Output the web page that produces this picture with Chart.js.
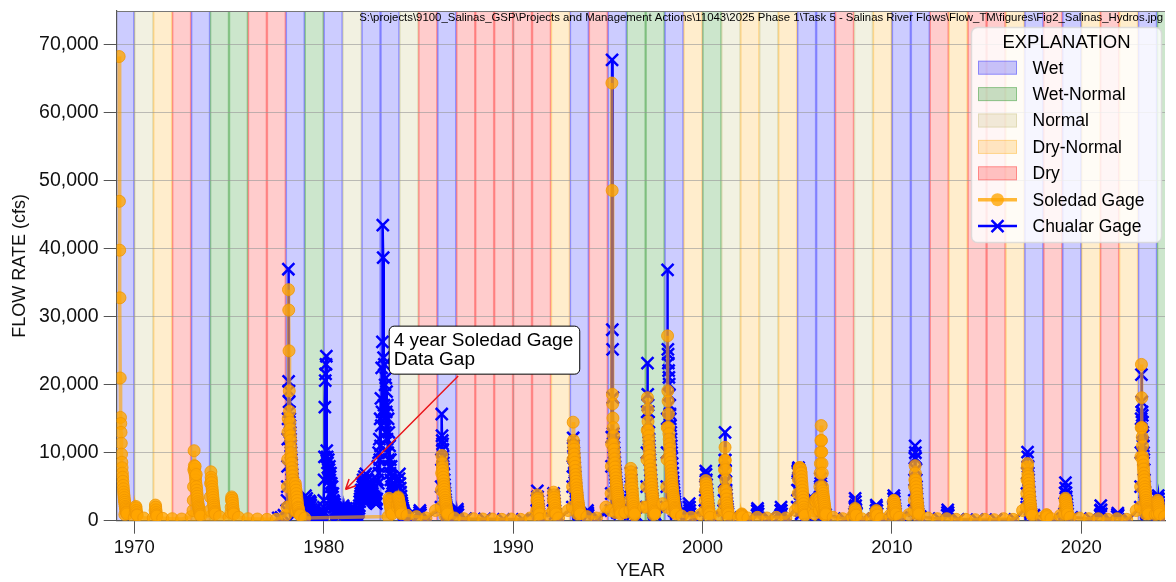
<!DOCTYPE html>
<html>
<head>
<title>Salinas River Flows</title>
<script src="https://cdn.jsdelivr.net/npm/chart.js"></script>
<style>
  html, body { margin: 0; padding: 0; background: #fff; overflow: hidden; }
  #hydro { display: block; }
</style>
</head>
<body>
<canvas id="hydro" width="1176" height="582"></canvas>
<script>
// year classification, one entry per calendar year from 1969
const firstYear = 1969;
const yearTypes = [
  'W','N','DN','D','W','WN','WN','D','D','W',      // 1969-1978
  'WN','W','N','W','W','N','D','W','D','D',        // 1979-1988
  'D','D','D','DN','W','D','W','WN','WN','W',      // 1989-1998
  'DN','WN','N','DN','N','DN','W','W','D','N',     // 1999-2008
  'DN','W','W','D','DN','D','D','DN','W','D',      // 2009-2018
  'W','DN','D','DN','W','WN'                       // 2019-2024
];
const typeNames = ['W', 'WN', 'N', 'DN', 'D'];
const typeLabels = ['Wet', 'Wet-Normal', 'Normal', 'Dry-Normal', 'Dry'];
const typeRgb = { W: '0,0,255', WN: '0,128,0', N: '189,183,107', DN: '255,165,0', D: '255,0,0' };

const xTicks = [1970, 1980, 1990, 2000, 2010, 2020];
const yTicks = [0, 10000, 20000, 30000, 40000, 50000, 60000, 70000];

// flows: [first reading (decimal year), years between readings, flows in cfs]
const soledadLow = [
  [1969.5, 0.5, [900, 500, 400, 400, 350, 300, 250, 600, 700, 600, 600, 500, 500, 300, 250, 200, 200, 800, 1500, 400]],
  [1983.4, 0.5, [600, 2000, 800, 600, 400, 1500, 700, 400, 300, 300, 250, 250, 200, 250, 200, 400, 300, 800, 400,
    1500, 1000, 600, 400, 2000, 1200, 1200, 800, 2000, 900, 2500, 1500, 700, 500, 900, 500, 800, 500, 500, 400,
    500, 400, 500, 400, 1500, 800, 1000, 900, 500, 300, 600, 300, 400, 300, 800, 500, 900, 600, 400, 300, 300, 200,
    200, 150, 200, 150, 300, 200, 1500, 800, 400, 300, 800, 500, 400, 300, 300, 200, 300, 200, 1500, 1000, 900, 600]]
];
const soledadStorms = [
  [1969.2, 0.014, [68300, 47000, 39800, 32800, 21000, 15200, 14300, 13000, 11400, 9800, 8600, 7800, 7000, 6400, 5800,
    5200, 4700, 4200, 3800, 3400, 3000, 2700, 2400, 2100, 1900, 1700, 1500, 1300, 1200, 1000]],
  [1970.05, 0.014, [1200, 1800, 2100, 1900, 1500, 1200, 900, 800]],
  [1971.1, 0.014, [1500, 2300, 2000, 1600, 1200, 900, 700]],
  [1973.1, 0.014, [1500, 3000, 5000, 7500, 10300, 8100, 7600, 7000, 8000, 6500, 6000, 5500, 6800, 5000, 4500, 4000,
    3600, 3200, 2800, 2500, 2200, 2000, 1800, 1600, 1400, 1200, 1000, 900]],
  [1974.0, 0.014, [1500, 3500, 5500, 7200, 6400, 6000, 5600, 5000, 4600, 4200, 3800, 3400, 3000, 2600, 2300, 2000,
    1700, 1400, 1200, 1000]],
  [1975.1, 0.014, [1200, 2000, 3000, 3500, 3300, 3000, 2600, 2200, 1800, 1500, 1200, 1000]],
  [1978.07, 0.014, [2000, 5000, 9000, 13000, 15000, 34000, 31000, 25000, 19100, 16100, 14500, 13500, 12500, 11800,
    10800, 10000, 9200, 8500, 7800, 7200, 6600, 6000, 5500, 5000, 4600, 4200, 3800, 3400, 3000, 2700, 2400, 2100,
    1900, 1700, 1500, 1300]],
  [1978.5, 0.02, [5500, 5000, 4500, 4000, 3500, 3000, 2500, 2000, 1800, 1500, 1200, 1000, 900, 800]],
  [1983.45, 0.014, [3300, 3000, 2800, 2600, 2400, 2200, 2000, 1800, 1600, 1400, 1200, 1000]],
  [1983.9, 0.014, [2500, 3300, 3500, 3200, 3000, 2800, 2600, 2400, 2200, 2000, 1800, 1600, 1400, 1200, 1000]],
  [1986.2, 0.014, [2000, 4500, 7000, 9600, 8500, 7900, 7400, 6900, 6400, 5900, 5400, 5000, 4600, 4200, 3800, 3400,
    3000, 2700, 2400, 2100, 1800, 1600, 1400, 1200, 1000]],
  [1991.25, 0.014, [1500, 3000, 3800, 3300, 3000, 2600, 2200, 1800, 1500, 1200, 1000]],
  [1992.11, 0.014, [1500, 3000, 4200, 3800, 3400, 3000, 2600, 2200, 1800, 1500, 1200, 1000]],
  [1993.13, 0.014, [2000, 5000, 9000, 14500, 11800, 11000, 10500, 9800, 9200, 8600, 8000, 7400, 6800, 6300, 5800,
    5300, 4800, 4400, 4000, 3600, 3200, 2900, 2600, 2300, 2000, 1800, 1600, 1400, 1200, 1000]],
  [1995.16, 0.014, [1500, 4000, 8000, 11300, 64400, 48600, 18600, 17200, 15100, 13700, 12500, 11300, 10500, 9800,
    9100, 8500, 7900, 7300, 6800, 6300, 5800, 5400, 5000, 4600, 4200, 3900, 3600, 3300, 3000, 2700, 2400, 2200,
    2000, 1800, 1600, 1400, 1200, 1000]],
  [1996.17, 0.014, [1500, 3000, 5000, 7700, 7200, 6600, 6000, 5400, 4800, 4300, 3800, 3300, 2900, 2500, 2100, 1800,
    1500, 1200, 1000]],
  [1997.04, 0.014, [2000, 5000, 9000, 13300, 18100, 16400, 14600, 13300, 12500, 11800, 11000, 10300, 9600, 8900,
    8200, 7600, 7000, 6400, 5900, 5400, 4900, 4400, 4000, 3600, 3200, 2800, 2500, 2200, 1900, 1600, 1400, 1200, 1000]],
  [1998.1, 0.014, [2000, 5000, 9000, 13700, 27200, 19100, 17600, 15700, 13700, 12800, 12000, 11300, 10600, 9900,
    9200, 8600, 8000, 7400, 6900, 6400, 5900, 5400, 5000, 4600, 4200, 3800, 3500, 3200, 2900, 2600, 2300, 2000,
    1800, 1600, 1400, 1200, 1000]],
  [2000.13, 0.014, [1500, 3000, 4500, 5900, 5500, 5200, 4800, 4400, 4000, 3600, 3200, 2800, 2400, 2000, 1700, 1400,
    1200, 1000]],
  [2001.12, 0.014, [1500, 2600, 4500, 7500, 8900, 10800, 8900, 7500, 6000, 4500, 3800, 3200, 2600, 2200, 1800, 1500,
    1200, 1000]],
  [2002.05, 0.014, [600, 900, 1000, 800, 600]],
  [2005.04, 0.014, [2000, 4000, 6000, 7000, 7600, 7800, 7800, 7700, 7800, 7600, 7500, 7200, 7000, 6500, 6000, 5500,
    5000, 4500, 4000, 3500, 3000, 2500, 2000, 1600, 1300, 1000]],
  [2005.85, 0.05, [1500, 2500, 3000, 2800, 3300, 3000, 2600, 2800, 2400, 2000, 1600, 1200, 1000, 800]],
  [2006.17, 0.014, [1500, 3300, 5000, 7000, 8400, 10100, 11800, 14000, 11800, 10100, 8400, 7000, 5000, 4400, 4000,
    3600, 3300, 3000, 2700, 2400, 2100, 1800, 1500, 1200, 1000]],
  [2008.03, 0.014, [800, 1500, 1800, 1600, 1300, 1000, 800]],
  [2009.15, 0.014, [800, 1200, 1500, 1300, 1000, 800]],
  [2010.06, 0.014, [1000, 2000, 2800, 3000, 2900, 2700, 2400, 2100, 1800, 1500, 1200, 1000]],
  [2011.17, 0.014, [1500, 3000, 5000, 6000, 8100, 7000, 6000, 5500, 5000, 4500, 4000, 3500, 3000, 2600, 2200, 1800,
    1500, 1200, 1000]],
  [2017.11, 0.014, [2000, 4000, 6000, 7900, 8400, 6900, 6500, 6000, 5500, 5000, 4500, 4000, 3500, 3000, 2600, 2200,
    1800, 1500, 1200, 1000]],
  [2018.15, 0.014, [600, 900, 800, 600]],
  [2019.12, 0.014, [1000, 2000, 3000, 3300, 3100, 2800, 2500, 2200, 1900, 1600, 1300, 1000]],
  [2023.12, 0.014, [2000, 5000, 9400, 13700, 23000, 18100, 13700, 12300, 11000, 9400, 8800, 8200, 7600, 7000, 6500,
    6000, 5500, 5000, 4600, 4200, 3800, 3400, 3000, 2700, 2400, 2100, 1800, 1600, 1400, 1200, 1000]],
  [2024.0, 0.014, [1000, 2000, 3000, 2800, 2500, 2200, 1900, 1600, 1300, 1000]]
];

const chualarLow = [
  [1977.6, 0.15, [400, 500, 800]],
  [1978.55, 0.15, [1800, 1500, 1300]],
  [1984.5, 1, [600, 400, 700, 300, 250, 200, 200, 300, 400, 900, 400, 1200, 800, 900, 1500, 500, 500, 500, 400, 400,
    400, 800, 900, 300, 300, 300, 500, 600, 300, 200, 150, 150, 200, 800, 300, 500, 300, 200, 200, 1000, 600]]
];
// 1979-1984: only the Chualar gage was recording
const chualarGap = [
  [1979.0, 0.02, [1500, 2500, 3700, 3000, 2200, 3300, 2600, 1800, 1400, 1200, 1600, 2200, 2900, 2500, 2000, 2700,
    2300, 1700, 1300, 1100, 1000, 900, 1200, 900, 800, 1000, 800, 700, 900, 700, 600, 800, 600, 700, 600, 500, 700,
    600, 500, 600, 500, 700, 600, 800, 700, 900, 1000, 1200, 1500, 2000]],
  [1980.0, 0.02, [3000, 6000, 9400, 16700, 20600, 21600, 23000, 24200, 10300, 9400, 8500, 7800, 9000, 7000, 7500,
    8000, 6000, 6500, 7000, 5000, 5500, 4000, 5000, 3500, 4000]],
  [1980.5, 0.02, [3000, 2500, 2800, 2000, 2400, 2000, 1600, 1300, 1000, 1300, 900, 1100, 800, 1000, 700, 900, 700,
    1000, 800, 1100, 900, 1200, 1400, 1700, 2000]],
  [1981.0, 0.02, [1800, 2200, 1500, 1300, 1900, 1400, 1100, 1500, 1000, 1300, 1800, 1400, 1100, 900, 1100, 800, 1000,
    700, 900, 1100, 700, 900, 600, 800, 1000, 700, 600, 800, 600, 900, 700, 600, 800, 600, 700, 900, 700, 1000, 800,
    1100, 1300, 1500, 1300, 1800, 2200, 2800, 3200, 3600, 4000, 4500]],
  [1982.0, 0.02, [4500, 5500, 4000, 5000, 6000, 4200, 5500, 6500, 4800, 5800, 4300, 6900, 5000, 6200, 4500, 5300,
    6000, 4400, 5000, 4200, 5200, 3900, 4600, 3800, 4500, 3500, 4200, 3300, 4000, 3100, 3600, 3000, 3500, 2800,
    3300, 2700, 3200, 2600, 3000, 2500, 3200]],
  [1982.84, 0.02, [6000, 8000, 5500, 10000, 7000, 12000, 9000, 15000, 11000, 18000, 14000, 22500, 16000, 26300,
    43500, 38700, 24000, 17000, 23000, 15000, 20000, 13000, 21000, 16000, 19000, 12000, 17000, 10000, 15000, 9000,
    13000, 8000, 11000, 7000, 9000, 6000, 8000, 5000, 6500, 4500, 5500]],
  [1983.66, 0.02, [5000, 4000, 3500, 4500, 3000, 4000, 3500, 2800, 3300, 2500, 3000, 2200, 2700, 2000, 2500, 3500,
    6200, 6900, 5500, 4800, 4200, 3600, 3000, 2600, 2200, 1900, 1600, 1400, 1200, 1000, 900, 800, 700, 600,
    700, 600, 500, 600, 500]]
];
const chualarStorms = [
  [1978.05, 0.014, [1500, 3000, 5000, 8000, 12000, 15000, 37000, 20500, 19100, 17500, 16000, 15000, 14000, 13000,
    12000, 11000, 10000, 9000, 8200, 7500, 6800, 6200, 5600, 5000, 4500, 4000, 3600, 3200, 2800, 2500, 2200, 1900,
    1600, 1400, 1200, 1000]],
  [1985.05, 0.014, [800, 1200, 1500, 1200, 900]],
  [1986.19, 0.014, [2000, 5000, 9000, 15700, 12500, 11800, 11300, 10500, 9500, 8500, 7600, 6800, 6000, 5300, 4700,
    4100, 3600, 3100, 2700, 2300, 2000, 1700, 1400, 1200, 1000]],
  [1987.03, 0.014, [800, 1400, 1700, 1300, 900]],
  [1991.25, 0.014, [1500, 3000, 4400, 3500, 2800, 2200, 1700, 1300, 1000]],
  [1992.11, 0.014, [1500, 3000, 4000, 3500, 3000, 2500, 2000, 1500, 1000]],
  [1993.13, 0.014, [2000, 5000, 8000, 12200, 11000, 10000, 9200, 8500, 7800, 7100, 6500, 5900, 5300, 4800, 4300,
    3800, 3400, 3000, 2600, 2200, 1900, 1600, 1300, 1000]],
  [1993.9, 0.014, [800, 1200, 1500, 1100, 800]],
  [1995.17, 0.014, [1500, 4000, 8000, 12300, 67800, 28100, 25200, 18100, 12800, 12300, 11500, 10800, 10000, 9300,
    8600, 8000, 7400, 6800, 6300, 5800, 5300, 4900, 4500, 4100, 3700, 3300, 3000, 2700, 2400, 2100, 1800, 1500,
    1200, 1000]],
  [1996.18, 0.014, [1500, 3000, 5000, 7000, 6000, 5000, 4000, 3000, 2000, 1500, 1000]],
  [1997.04, 0.014, [2000, 5000, 10000, 16000, 23200, 18600, 17000, 16000, 14500, 13000, 12000, 11000, 10000, 9000,
    8200, 7400, 6700, 6000, 5400, 4800, 4300, 3800, 3300, 2900, 2500, 2100, 1800, 1500, 1200, 1000]],
  [1998.1, 0.014, [2000, 5000, 10000, 15000, 36900, 25200, 24500, 23200, 22100, 21100, 20100, 18500, 17000, 15700,
    15000, 14000, 13000, 12000, 11000, 10000, 9200, 8400, 7700, 7000, 6300, 5700, 5100, 4600, 4100, 3600, 3200,
    2800, 2400, 2000, 1700, 1400, 1200, 1000]],
  [1999.27, 0.014, [1000, 2000, 2500, 2000, 1500, 1000]],
  [2000.13, 0.014, [1500, 3000, 5000, 7300, 6800, 6000, 5300, 4600, 4000, 3400, 2800, 2300, 1800, 1400, 1000]],
  [2001.12, 0.014, [1500, 3000, 5700, 7300, 8900, 13000, 8900, 7300, 5700, 4500, 3800, 3200, 2600, 2100, 1700, 1300,
    1000]],
  [2002.88, 0.014, [800, 1500, 1800, 1400, 1000]],
  [2004.12, 0.014, [800, 1500, 2000, 1500, 1000]],
  [2005.0, 0.014, [2000, 4500, 7300, 7000, 7600, 7800, 7500, 7200, 6800, 6000, 5000, 4000, 3000, 2000, 1500, 1000]],
  [2005.7, 0.014, [1500, 3500, 2500, 2000]],
  [2006.2, 0.014, [3000, 5000, 6200, 5500, 5000, 4500, 4000, 3500, 3000, 2500, 2000, 1500, 1000]],
  [2008.03, 0.014, [1000, 2000, 3300, 2800, 2200, 1600, 1200, 1000]],
  [2009.15, 0.014, [1000, 1500, 2300, 2000, 1500, 1000]],
  [2010.06, 0.014, [1000, 2000, 3200, 3700, 3300, 2800, 2300, 1800, 1400, 1000]],
  [2011.17, 0.014, [1500, 3000, 6000, 9200, 11000, 10000, 9200, 7500, 6000, 5000, 4000, 3200, 2500, 1900, 1400, 1000]],
  [2012.92, 0.014, [800, 1200, 1600, 1200, 800]],
  [2017.12, 0.014, [2000, 4000, 7000, 10100, 9400, 8000, 7000, 6000, 5000, 4200, 3500, 2800, 2200, 1700, 1300, 1000]],
  [2019.12, 0.014, [1000, 2500, 4100, 5600, 4800, 4100, 3500, 2900, 2400, 1900, 1500, 1000]],
  [2021.0, 0.014, [800, 1500, 2200, 1600, 1000]],
  [2021.9, 0.014, [600, 900, 1100, 800]],
  [2023.12, 0.014, [2000, 5000, 10000, 15000, 21500, 17500, 16000, 15500, 14500, 13000, 12500, 11000, 10000, 9000,
    7500, 6000, 5000, 4200, 3500, 2900, 2400, 1900, 1500, 1200, 1000]],
  [2024.02, 0.014, [1000, 2000, 3300, 3700, 3200, 2700, 2200, 1700, 1300, 1000]]
];

const gapNote = ['4 year Soledad Gage', 'Data Gap'];
const filePath = 'S:\\projects\\9100_Salinas_GSP\\Projects and Management Actions\\11043\\2025 Phase 1\\Task 5 - Salinas River Flows\\Flow_TM\\figures\\Fig2_Salinas_Hydros.jpg';

const FONT = '"Liberation Sans", Arial, sans-serif';
const ORANGE = 'rgba(255,165,0,0.78)';
const ORANGE_LINE = 'rgba(255,165,0,0.62)';
const BLUE = '#0000ff';

function expand(runs) {
    const pts = [];
    runs.forEach(([start, step, flows]) => {
        flows.forEach((v, i) => pts.push({x: +(start + i * step).toFixed(3), y: v}));
    });
    return pts.sort((a, b) => a.x - b.x);
}

const soledad = expand(soledadLow.concat(soledadStorms));
const chualar = expand(chualarLow.concat(chualarGap, chualarStorms));

const bandsPlugin = {
    id: 'bands',
    beforeDraw(chart) {
        const {ctx, chartArea: a, scales: {x}} = chart;
        ctx.save();
        ctx.beginPath();
        ctx.rect(a.left, a.top, a.right - a.left, a.bottom - a.top);
        ctx.clip();
        yearTypes.forEach((t, i) => {
            const x0 = x.getPixelForValue(firstYear + i);
            const x1 = x.getPixelForValue(firstYear + i + 1);
            ctx.fillStyle = `rgba(${typeRgb[t]},0.2)`;
            ctx.fillRect(x0, a.top, x1 - x0, a.bottom - a.top);
            ctx.strokeStyle = `rgba(${typeRgb[t]},0.3)`;
            ctx.lineWidth = 1.5;
            ctx.beginPath();
            ctx.moveTo(x0 + 0.5, a.top); ctx.lineTo(x0 + 0.5, a.bottom);
            ctx.moveTo(x1 - 0.5, a.top); ctx.lineTo(x1 - 0.5, a.bottom);
            ctx.stroke();
        });
        ctx.restore();
    }
};

const notesPlugin = {
    id: 'notes',
    afterDraw(chart) {
        const {ctx, chartArea: a, scales: {x, y}} = chart;
        ctx.save();
        // top frame line
        ctx.strokeStyle = '#777';
        ctx.lineWidth = 1;
        ctx.beginPath(); ctx.moveTo(a.left, a.top + 0.5); ctx.lineTo(a.right, a.top + 0.5); ctx.stroke();

        // file path
        ctx.fillStyle = '#000';
        ctx.font = '11.4px ' + FONT;
        ctx.textAlign = 'right';
        ctx.textBaseline = 'alphabetic';
        ctx.fillText(filePath, 1163, 20.5);

        // gap annotation
        const bx = x.getPixelForValue(1983.43), by = y.getPixelForValue(28700);
        ctx.font = '19px ' + FONT;
        const w = Math.max(...gapNote.map(s => ctx.measureText(s).width)) + 11;
        const h = 48;
        ctx.beginPath();
        ctx.roundRect(bx + 0.5, by + 0.5, w, h, 5);
        ctx.fillStyle = '#fff';
        ctx.fill();
        ctx.strokeStyle = '#000';
        ctx.lineWidth = 1;
        ctx.stroke();
        ctx.fillStyle = '#000';
        ctx.textAlign = 'left';
        gapNote.forEach((s, i) => ctx.fillText(s, bx + 5, by + 20.5 + i * 19));

        const tx = x.getPixelForValue(1987.1), ty = y.getPixelForValue(21300);
        const hx = x.getPixelForValue(1981.15), hy = y.getPixelForValue(4600);
        const ang = Math.atan2(hy - ty, hx - tx);
        ctx.strokeStyle = '#e8161b';
        ctx.lineWidth = 1.5;
        ctx.beginPath();
        ctx.moveTo(tx, ty); ctx.lineTo(hx, hy);
        [-0.45, 0.45].forEach(d => {
            ctx.moveTo(hx, hy);
            ctx.lineTo(hx - 11 * Math.cos(ang + d), hy - 11 * Math.sin(ang + d));
        });
        ctx.stroke();

        // legend
        const lx = 971.5, ly = 27.5, lw = 190, lh = 215;
        ctx.beginPath();
        ctx.roundRect(lx, ly, lw, lh, 6);
        ctx.fillStyle = 'rgba(255,255,255,0.82)';
        ctx.fill();
        ctx.strokeStyle = 'rgba(215,215,215,0.8)';
        ctx.stroke();
        ctx.fillStyle = '#000';
        ctx.textAlign = 'center';
        ctx.textBaseline = 'middle';
        ctx.font = '18.5px ' + FONT;
        ctx.fillText('EXPLANATION', lx + 95, ly + 15);
        ctx.font = '17.5px ' + FONT;
        ctx.textAlign = 'left';
        const rowY = i => 67.7 + i * 26.4;
        typeNames.forEach((t, i) => {
            ctx.fillStyle = `rgba(${typeRgb[t]},0.22)`;
            ctx.fillRect(978, rowY(i) - 7, 39, 14);
            ctx.strokeStyle = `rgba(${typeRgb[t]},0.3)`;
            ctx.lineWidth = 1;
            ctx.strokeRect(978.5, rowY(i) - 6.5, 38, 13);
            ctx.fillStyle = '#000';
            ctx.fillText(typeLabels[i], 1032.5, rowY(i) + 1);
        });
        // Soledad swatch
        let sy = rowY(5);
        ctx.strokeStyle = ORANGE;
        ctx.lineWidth = 3.5;
        ctx.beginPath(); ctx.moveTo(978, sy); ctx.lineTo(1017, sy); ctx.stroke();
        ctx.fillStyle = ORANGE;
        ctx.beginPath(); ctx.arc(997.5, sy, 6.5, 0, Math.PI * 2); ctx.fill();
        ctx.fillStyle = '#000';
        ctx.fillText('Soledad Gage', 1032.5, sy + 1);
        // Chualar swatch
        sy = rowY(6);
        ctx.strokeStyle = BLUE;
        ctx.lineWidth = 2.5;
        ctx.beginPath();
        ctx.moveTo(978, sy); ctx.lineTo(1017, sy);
        ctx.moveTo(991.5, sy - 6); ctx.lineTo(1003.5, sy + 6);
        ctx.moveTo(991.5, sy + 6); ctx.lineTo(1003.5, sy - 6);
        ctx.stroke();
        ctx.fillStyle = '#000';
        ctx.fillText('Chualar Gage', 1032.5, sy + 1);
        ctx.restore();
    }
};

const ctx = document.getElementById('hydro').getContext('2d');
new Chart(ctx, {
    type: 'line',
    data: {
        datasets: [
            {
                label: 'Soledad Gage', data: soledad,
                borderColor: ORANGE_LINE, borderWidth: 3.5,
                pointStyle: 'circle', pointRadius: 6,
                pointBackgroundColor: ORANGE, pointBorderColor: 'rgba(240,150,0,0.8)', pointBorderWidth: 1
            },
            {
                label: 'Chualar Gage', data: chualar,
                borderColor: BLUE, borderWidth: 2.5,
                pointStyle: 'crossRot', pointRadius: 8.5,
                pointBorderColor: BLUE, pointBackgroundColor: BLUE, pointBorderWidth: 2.5
            }
        ]
    },
    options: {
        responsive: false,
        animation: false,
        devicePixelRatio: 1,
        normalized: true,
        layout: {padding: {top: 7.3, right: 0, bottom: 0, left: 0}},
        plugins: {legend: {display: false}, tooltip: {enabled: false}},
        scales: {
            x: {
                type: 'linear', min: 1969.07, max: 2024.42,
                afterBuildTicks: s => { s.ticks = xTicks.map(v => ({value: v})); },
                afterFit: s => { s.height = 61.3; s.paddingLeft = 0; s.paddingRight = 0; },
                grid: {color: 'rgba(150,150,150,0.45)', tickLength: 13, tickColor: '#555'},
                border: {color: '#555', width: 1.2},
                ticks: {color: '#111', padding: 3, maxRotation: 0, font: {family: FONT, size: 18.5}, callback: v => String(v)},
                title: {display: true, text: 'YEAR', color: '#111', padding: {top: 0, bottom: 0}, font: {family: FONT, size: 18}}
            },
            y: {
                min: 0, max: 75000,
                afterBuildTicks: s => { s.ticks = yTicks.map(v => ({value: v})); },
                afterFit: s => { s.width = 116.7; s.paddingTop = 0; s.paddingBottom = 0; },
                grid: {color: 'rgba(150,150,150,0.6)', tickLength: 13, tickColor: '#555'},
                border: {color: '#555', width: 1.2},
                ticks: {color: '#111', padding: 5, font: {family: FONT, size: 19.5}, callback: v => v.toLocaleString('en-US')},
                title: {display: true, text: 'FLOW RATE (cfs)', color: '#111', padding: {top: 9, bottom: 0}, font: {family: FONT, size: 18}}
            }
        }
    },
    plugins: [bandsPlugin, notesPlugin]
});
</script>
</body>
</html>
